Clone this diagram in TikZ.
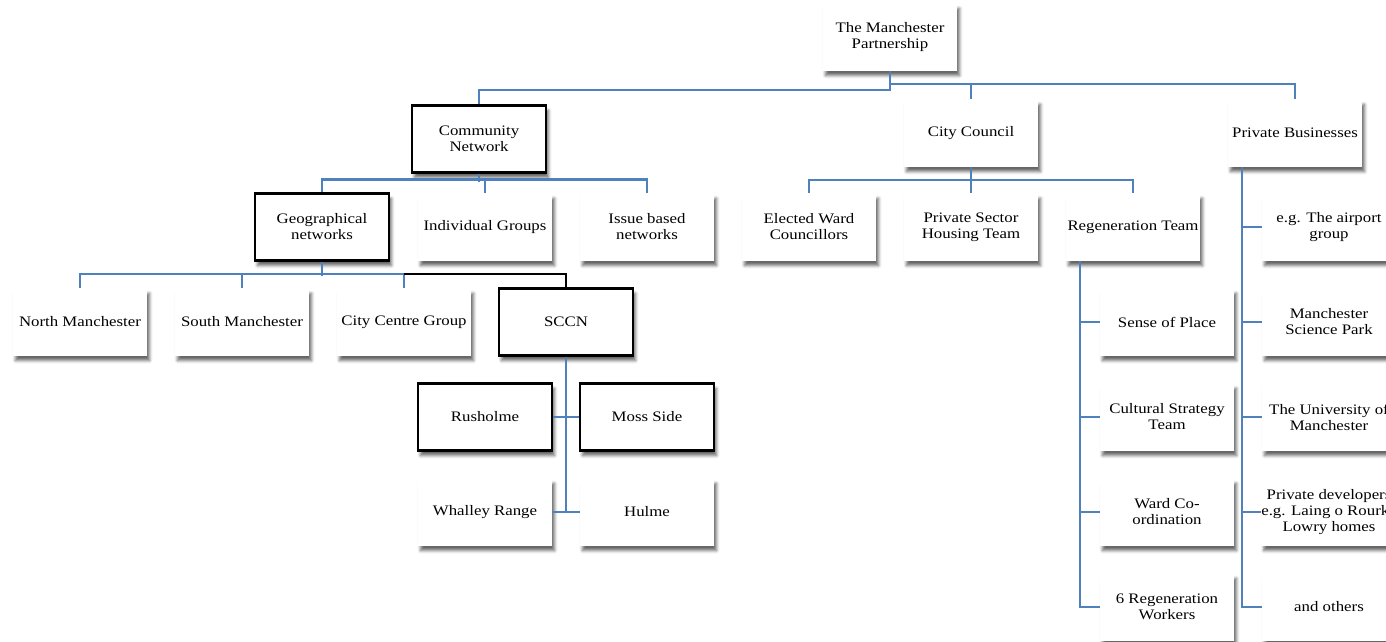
\documentclass[tikz,border=0pt]{standalone}
\usepackage{fontspec}
\setmainfont{Liberation Serif}[FakeStretch=1.16]
\usetikzlibrary{shadows.blur,calc}
\definecolor{lineblue}{HTML}{4F81BD}
\tikzset{
  box/.style={fill=white, minimum width=134pt, minimum height=67pt, inner sep=0pt,
    align=center, font=\fontsize{14.5}{16}\selectfont,
    blur shadow={shadow xshift=2.5pt, shadow yshift=-5pt, shadow blur radius=3pt, shadow opacity=60}},
  bbox/.style={box, draw=black, line width=2.2pt},
  conn/.style={draw=lineblue, line width=2.3pt},
  blk/.style={draw=black, line width=2.3pt},
}
\begin{document}
\begin{tikzpicture}[x=1pt,y=-1pt]
\useasboundingbox (0,0) rectangle (1386,641);
\clip (0,0) rectangle (1386,641);
% level 0
\node[box] (mp) at (890,37) {The Manchester\\Partnership};
% level 1
\node[bbox] (cn) at (479,139) {Community\\Network};
\node[box] (cc) at (971,133) {City Council};
\node[box] (pb) at (1295,133) {Private Businesses};
% level 2
\node[bbox] (gn) at (322,227) {Geographical\\networks};
\node[box] (ig) at (485,227) {Individual Groups};
\node[box] (ib) at (647,227) {Issue based\\networks};
\node[box] (ew) at (809,227) {Elected Ward\\Councillors};
\node[box] (ps) at (971,227) {Private Sector\\Housing Team};
\node[box] (rt) at (1133,227) {Regeneration Team};
% level 3
\node[box] (nm) at (80,322) {North Manchester};
\node[box] (sm) at (242,322) {South Manchester};
\node[box] (ccg) at (404,322) {City Centre Group};
\node[bbox] (sccn) at (566,322) {SCCN};
% SCCN children
\node[bbox] (ru) at (485,417) {Rusholme};
\node[bbox] (ms) at (647,417) {Moss Side};
\node[box] (wr) at (485,512) {Whalley Range};
\node[box] (hu) at (647,512) {Hulme};
% Regeneration children
\node[box] (sp) at (1167,322) {Sense of Place};
\node[box] (cs) at (1167,417) {Cultural Strategy\\Team};
\node[box] (wc) at (1167,512) {Ward Co-\\ordination};
\node[box] (rw) at (1167,607) {6 Regeneration\\Workers};
% Private business children
\node[box] (ap) at (1329,227) {e.g. The airport\\group};
\node[box] (msp) at (1329,322) {Manchester\\Science Park};
\node[box] (uni) at (1329,417) {The University of\\Manchester};
\node[box] (pd) at (1329,512) {Private developers\\e.g. Laing o Rourke\\Lowry homes};
\node[box] (oth) at (1329,607) {and others};
% connectors
\draw[conn] (mp.south) -- ++(0,19) -| (cn.north);
\draw[conn] ($(mp.south)+(0,13.5)$) -| (pb.north);
\draw[conn] (cc.north) -- ++(0,-15.5);
\draw[conn] (cn.south) -- ++(0,8);
\draw[conn] (gn.north) -- ++(0,-13) -| (ib.north);
\draw[conn] (ig.north) -- ++(0,-13);
\draw[conn] (ew.north) -- ++(0,-13) -| (rt.north);
\draw[conn] (cc.south) -- (ps.north);
\draw[conn] (gn.south) -- ++(0,14);
\draw[conn] (nm.north) -- ++(0,-14) -| (ccg.north);
\draw[conn] (sm.north) -- ++(0,-14);
\draw[blk] (ccg.north) ++(0,-14) -| (sccn.north);
\draw[conn] (sccn.south) -- (sccn.south |- wr.east);
\draw[conn] (ru.east) -- (ms.west);
\draw[conn] (wr.east) -- (hu.west);
\draw[conn] ([xshift=-53pt]rt.south) |- (rw.west);
\draw[conn] (sp.west) -- ++(-20,0);
\draw[conn] (cs.west) -- ++(-20,0);
\draw[conn] (wc.west) -- ++(-20,0);
\draw[conn] ([xshift=-53pt]pb.south) |- (oth.west);
\draw[conn] (ap.west) -- ++(-20,0);
\draw[conn] (msp.west) -- ++(-20,0);
\draw[conn] (uni.west) -- ++(-20,0);
\draw[conn] (pd.west) -- ++(-20,0);
\end{tikzpicture}
\end{document}
